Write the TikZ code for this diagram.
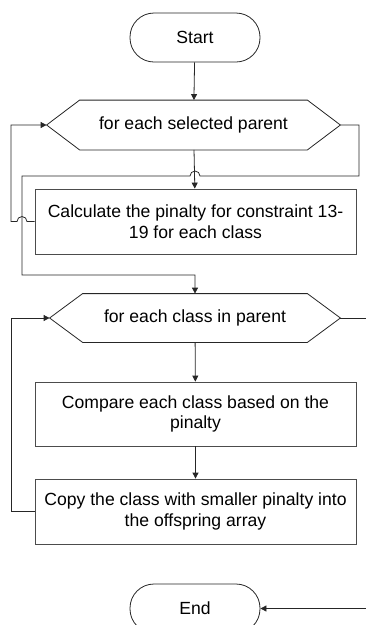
\documentclass[tikz,border=0pt]{standalone}
\usepackage{fontspec}
\setmainfont{Liberation Sans}
\usetikzlibrary{arrows.meta}
\begin{document}
\begin{tikzpicture}[x=1pt,y=-1pt,
  line width=0.8pt,
  every node/.style={font=\fontsize{17.6}{20.5}\selectfont, inner sep=0pt},
  term/.style={draw=black!85, rounded corners=24pt, minimum width=130pt, minimum height=49pt},
  proc/.style={draw=black!70, minimum width=321pt, minimum height=65pt, align=center},
  loopn/.style={minimum width=293pt, minimum height=49pt},
  conn/.style={draw=black!85},
  arr/.style={conn, -{Triangle[length=6pt,width=6pt]}}
]
\useasboundingbox (0,0) rectangle (366,625);

\node[term] (start) at (195,37.5) {Start};
\node[loopn] (h1) at (193.5,125) {for each selected parent};
\node[proc] (b1) at (195.5,221.5) {Calculate the pinalty for constraint 13-\\19 for each class};
\node[loopn, minimum width=290pt, minimum height=48pt] (h2) at (195,318) {for each class in parent};
\node[proc, minimum height=64pt] (b2) at (195.5,414) {Compare each class based on the\\pinalty};
\node[proc] (b3) at (195.5,511.5) {Copy the class with smaller pinalty into\\the offspring array};
\node[term] (end) at (195,608.5) {End};

% hexagons
\foreach \h in {h1,h2}{
  \draw[conn] (\h.west) -- ([xshift=33pt]\h.north west) -- ([xshift=-33pt]\h.north east)
    -- (\h.east) -- ([xshift=-33pt]\h.south east) -- ([xshift=33pt]\h.south west) -- cycle;
}

\coordinate (r1) at (359,125);
\coordinate (r1b) at (359,176);
\coordinate (hopA) at (195,176);
\coordinate (l1) at (22,176);
\coordinate (l1b) at (22,275);
\coordinate (m1) at (195,275);
\coordinate (hopB) at (22,221.5);
\coordinate (ll1) at (11,221.5);
\coordinate (ll1t) at (11,125);
\coordinate (ll2) at (11,511.5);
\coordinate (ll2t) at (11,318);
\coordinate (edgeA) at (366,318);
\coordinate (edgeB) at (366,608.5);

\draw[arr] (start) -- (h1);
\draw[arr] (h1) -- (b1);
\draw[arr] (h1.east) -- (r1) -- (r1b) -- ([xshift=5pt]hopA) arc[start angle=0, end angle=180, radius=5pt]
  -- (l1) -- (l1b) -- (m1) -- (h2.north);
\draw[arr] (b1.west) -- ([xshift=5pt]hopB) arc[start angle=0, end angle=180, radius=5pt]
  -- (ll1) -- (ll1t) -- (h1.west);
\draw[arr] (h2) -- (b2);
\draw[arr] (b2) -- (b3);
\draw[arr] (b3.west) -- (ll2) -- (ll2t) -- (h2.west);
\draw[conn] (h2.east) -- (edgeA);
\draw[arr] (edgeB) -- (end.east);
\end{tikzpicture}
\end{document}
